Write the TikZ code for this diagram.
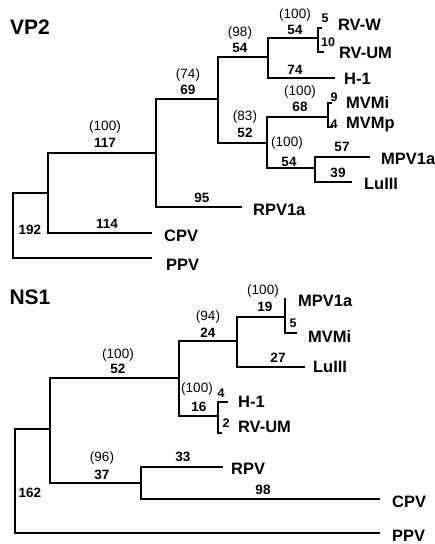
\documentclass[tikz,border=0pt]{standalone}
\usepackage{fontspec}
\setmainfont{Liberation Sans}
\usepackage{tikz}
\usetikzlibrary{calc}

\begin{document}
\begin{tikzpicture}[x=1pt,y=-1pt,line width=2.2pt,
  taxon/.style={font=\fontsize{16.5}{17}\selectfont\bfseries,anchor=west,inner sep=0pt},
  blen/.style={font=\fontsize{13.5}{14}\selectfont\bfseries,inner sep=0pt},
  boot/.style={font=\fontsize{13.5}{14}\selectfont,inner sep=0pt},
  tiny/.style={font=\fontsize{12.5}{13}\selectfont\bfseries,inner sep=0pt},
  title/.style={font=\fontsize{21}{23}\selectfont\bfseries,inner sep=0pt}]
  \useasboundingbox (0,0) rectangle (435,544);
  % VP2
  \node[title] (vptitle) at (30,27) {VP2};
  \coordinate (vroot) at (13,225);
  \coordinate (vc) at (48,193);
  \coordinate (vb) at (156,153);
  \coordinate (va) at (218,99);
  \coordinate (vd) at (268,57);
  \coordinate (ve) at (267,143);
  \coordinate (vf) at (318,38);
  \coordinate (vg) at (328,117);
  \coordinate (vh) at (315,168);
  \coordinate (vPPV) at (152,258);
  \coordinate (vCPV) at (152,233);
  \coordinate (vRPV) at (242,207);
  \coordinate (vH) at (335,78);
  \coordinate (vRVW) at (322,28);
  \coordinate (vRVUM) at (324,52);
  \coordinate (vMVMi) at (332,103);
  \coordinate (vMVMp) at (333,127);
  \coordinate (vMPV) at (370,157);
  \coordinate (vLu) at (352,182);
  \draw (vroot) |- (vc);
  \draw (vroot) |- (vPPV);
  \draw (vc) |- (vb);
  \draw (vc) |- (vCPV);
  \draw (vb) |- (va);
  \draw (vb) |- (vRPV);
  \draw (va) |- (vd);
  \draw (va) |- (ve);
  \draw (vd) |- (vf);
  \draw (vd) |- (vH);
  \draw (vf) |- (vRVW);
  \draw (vf) |- (vRVUM);
  \draw (ve) |- (vg);
  \draw (ve) |- (vh);
  \draw (vg) |- (vMVMi);
  \draw (vg) |- (vMVMp);
  \draw (vh) |- (vMPV);
  \draw (vh) |- (vLu);
  \node[boot] (vbt1) at (105,127) {(100)};
  \node[blen] (vbl1) at (105,143) {117};
  \node[boot] (vbt2) at (188,75) {(74)};
  \node[blen] (vbl2) at (188,90) {69};
  \node[boot] (vbt3) at (240,33) {(98)};
  \node[blen] (vbl3) at (240,48) {54};
  \node[boot] (vbt4) at (295,15) {(100)};
  \node[blen] (vbl4) at (295,30) {54};
  \node[boot] (vbt5) at (300,92) {(100)};
  \node[blen] (vbl5) at (300,107) {68};
  \node[boot] (vbt6) at (245,117) {(83)};
  \node[blen] (vbl6) at (245,133) {52};
  \node[boot] (vbt7) at (287,143) {(100)};
  \node[blen] (vbl7) at (289,162) {54};
  \node[tiny] (vbl8) at (325,18) {5};
  \node[tiny] (vbl9) at (328,42) {10};
  \node[blen] (vbl10) at (295,70) {74};
  \node[tiny] (vbl11) at (334,97) {9};
  \node[tiny] (vbl12) at (334,124) {4};
  \node[blen] (vbl13) at (342,147) {57};
  \node[blen] (vbl14) at (338,173) {39};
  \node[blen] (vbl15) at (202,198) {95};
  \node[blen] (vbl16) at (107,224) {114};
  \node[blen] (vbl17) at (30,230) {192};
  \node[taxon] (vtRVW) at (337,25) {RV-W};
  \node[taxon] (vtRVUM) at (338,53) {RV-UM};
  \node[taxon] (vtH) at (343,79) {H-1};
  \node[taxon] (vtMVMi) at (345,103) {MVMi};
  \node[taxon] (vtMVMp) at (345,125) {MVMp};
  \node[taxon] (vtMPV) at (380,159) {MPV1a};
  \node[taxon] (vtLu) at (363,184) {LuIII};
  \node[taxon] (vtRPV) at (252,210) {RPV1a};
  \node[taxon] (vtCPV) at (163,236) {CPV};
  \node[taxon] (vtPPV) at (165,265) {PPV};
  % NS1
  \node[title] (nstitle) at (30,297) {NS1};
  \coordinate (nroot) at (15,480);
  \coordinate (np) at (50,429);
  \coordinate (nq) at (179,378);
  \coordinate (nr) at (141,483);
  \coordinate (ns) at (237,341);
  \coordinate (nt) at (218,416);
  \coordinate (nu) at (285,317);
  \coordinate (nPPV) at (380,533);
  \coordinate (nCPV) at (380,499);
  \coordinate (nRPV) at (223,467);
  \coordinate (nMPV) at (285,298);
  \coordinate (nMVMi) at (297,333);
  \coordinate (nLu) at (305,367);
  \coordinate (nH) at (228,402);
  \coordinate (nRVUM) at (222,433);
  \draw (nroot) |- (np);
  \draw (nroot) |- (nPPV);
  \draw (np) |- (nq);
  \draw (np) |- (nr);
  \draw (nq) |- (ns);
  \draw (nq) |- (nt);
  \draw (ns) |- (nu);
  \draw (ns) |- (nLu);
  \draw (nu) |- (nMPV);
  \draw (nu) |- (nMVMi);
  \draw (nt) |- (nH);
  \draw (nt) |- (nRVUM);
  \draw (nr) |- (nRPV);
  \draw (nr) |- (nCPV);
  \node[boot] (nbt1) at (118,355) {(100)};
  \node[blen] (nbl1) at (118,369) {52};
  \node[boot] (nbt2) at (208,317) {(94)};
  \node[blen] (nbl2) at (208,333) {24};
  \node[boot] (nbt3) at (263,291) {(100)};
  \node[blen] (nbl3) at (265,307) {19};
  \node[tiny] (nbl4) at (293,323) {5};
  \node[blen] (nbl5) at (278,358) {27};
  \node[boot] (nbt6) at (197,389) {(100)};
  \node[blen] (nbl6) at (199,407) {16};
  \node[tiny] (nbl7) at (221,393) {4};
  \node[tiny] (nbl8) at (226,423) {2};
  \node[boot] (nbt9) at (102,458) {(96)};
  \node[blen] (nbl9) at (102,475) {37};
  \node[blen] (nbl10) at (183,457) {33};
  \node[blen] (nbl11) at (263,490) {98};
  \node[blen] (nbl12) at (30,493) {162};
  \node[taxon] (ntMPV) at (297,301) {MPV1a};
  \node[taxon] (ntMVMi) at (307,337) {MVMi};
  \node[taxon] (ntLu) at (312,367) {LuIII};
  \node[taxon] (ntH) at (237,402) {H-1};
  \node[taxon] (ntRVUM) at (237,427) {RV-UM};
  \node[taxon] (ntRPV) at (230,469) {RPV};
  \node[taxon] (ntCPV) at (391,502) {CPV};
  \node[taxon] (ntPPV) at (391,536) {PPV};
\end{tikzpicture}
\end{document}
